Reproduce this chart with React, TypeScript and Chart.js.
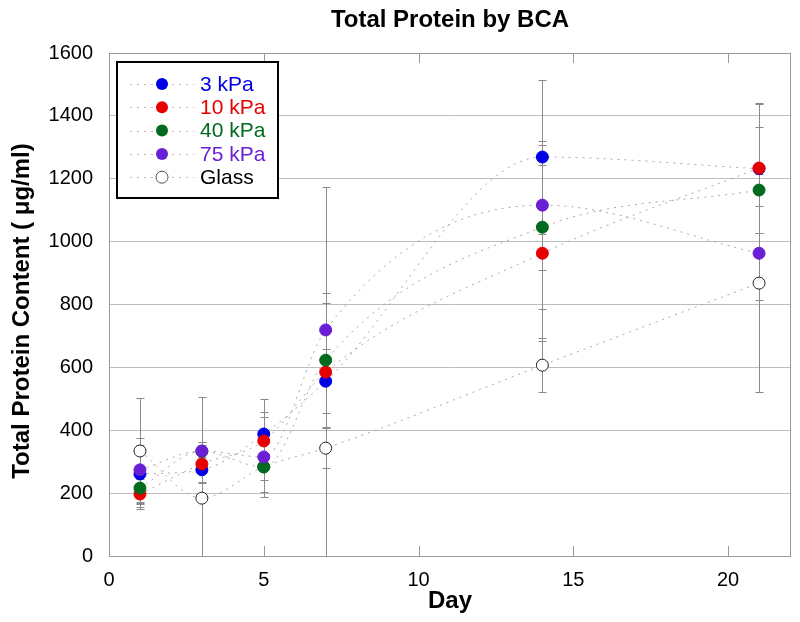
import React, { useEffect, useRef } from "react";
import { Chart, registerables } from "chart.js";

Chart.register(...registerables);

const days = [1, 3, 5, 7, 14, 21];
const kpa3 = [261, 274, 388, 556, 1269, 1232];
const kpa3Err = [92, 40, 111, 102, 245, 205];
const kpa10 = [197, 293, 366, 585, 963, 1234];
const kpa10Err = [47, 60, 92, 590, 280, 207];
const kpa40 = [216, 333, 283, 623, 1046, 1164];
const kpa40Err = [60, 30, 41, 214, 260, 201];
const kpa75 = [274, 334, 315, 719, 1116, 963];
const kpa75Err = [101, 30, 127, 85, 205, 150];
const glass = [334, 184, 284, 343, 607, 868];
const glassErr = [168, 321, 80, 63, 85, 346];

const seriesNames = ["3 kPa", "10 kPa", "40 kPa", "75 kPa", "Glass"];
const xTickValues = [0, 5, 10, 15, 20];

const FONT = "'Liberation Sans', Arial, sans-serif";

const colors = ["#0000e6", "#e60000", "#006b1e", "#6a1ed6", "#000000"];

export default function App() {
  const ref = useRef<HTMLCanvasElement>(null);

  useEffect(() => {
    if (!ref.current) return;
    const values = [kpa3, kpa10, kpa40, kpa75, glass];
    const errors = [kpa3Err, kpa10Err, kpa40Err, kpa75Err, glassErr];
    const orders = [5, 4, 3, 2, 6];

    const datasets = values.map((vals, i) => {
      const isGlass = i === 4;
      return {
        label: seriesNames[i],
        data: days.map((d, j) => ({ x: d, y: vals[j] })),
        errs: errors[i],
        borderColor: "rgba(160,160,160,0.9)",
        borderWidth: 1,
        borderDash: [2, 5],
        cubicInterpolationMode: "monotone",
        pointRadius: 6,
        pointHoverRadius: 6,
        pointBackgroundColor: isGlass ? "#ffffff" : colors[i],
        pointBorderColor: isGlass ? "#222222" : colors[i],
        pointBorderWidth: 1,
        showLine: true,
        fill: false,
        order: orders[i],
      } as any;
    });

    const errorBarPlugin = {
      id: "errorBars",
      beforeDatasetsDraw(chart: any) {
        const { ctx, chartArea, scales } = chart;
        const ys = scales.y;
        ctx.save();
        ctx.beginPath();
        ctx.rect(chartArea.left, chartArea.top, chartArea.right - chartArea.left, chartArea.bottom - chartArea.top);
        ctx.clip();
        ctx.strokeStyle = "#8a8a8a";
        ctx.lineWidth = 1;
        chart.data.datasets.forEach((ds: any, di: number) => {
          const meta = chart.getDatasetMeta(di);
          meta.data.forEach((pt: any, j: number) => {
            const v = ds.data[j].y;
            const e = ds.errs[j];
            const x = Math.round(pt.x) + 0.5;
            const yt = Math.round(ys.getPixelForValue(v + e)) + 0.5;
            const yb = Math.round(ys.getPixelForValue(v - e)) + 0.5;
            ctx.beginPath();
            ctx.moveTo(x, yt);
            ctx.lineTo(x, yb);
            ctx.moveTo(x - 4, yt);
            ctx.lineTo(x + 4, yt);
            ctx.moveTo(x - 4, yb);
            ctx.lineTo(x + 4, yb);
            ctx.stroke();
          });
        });
        ctx.restore();
      },
    };

    const decorPlugin = {
      id: "decor",
      afterDraw(chart: any) {
        const { ctx, chartArea, scales } = chart;
        const { left, right, top, bottom } = chartArea;
        ctx.save();
        // frame
        ctx.strokeStyle = "#999999";
        ctx.lineWidth = 1;
        ctx.strokeRect(Math.round(left) + 0.5, Math.round(top) + 0.5, Math.round(right - left), Math.round(bottom - top));
        // inward x ticks top and bottom
        ctx.beginPath();
        xTickValues.forEach((v) => {
          const x = Math.round(scales.x.getPixelForValue(v)) + 0.5;
          ctx.moveTo(x, bottom);
          ctx.lineTo(x, bottom - 10);
          ctx.moveTo(x, top);
          ctx.lineTo(x, top + 10);
        });
        ctx.stroke();

        // title
        ctx.fillStyle = "#000";
        ctx.font = `bold 24px ${FONT}`;
        ctx.textAlign = "center";
        ctx.textBaseline = "middle";
        ctx.fillText("Total Protein by BCA", 450, 20);
        // x title
        ctx.fillText("Day", 450, 601);
        // y title
        ctx.save();
        ctx.translate(22, 311);
        ctx.rotate(-Math.PI / 2);
        ctx.fillText("Total Protein Content ( \u03bcg/ml)", 0, 0);
        ctx.restore();

        // legend
        const bx = 117, by = 62, bw = 161, bh = 136;
        ctx.fillStyle = "#ffffff";
        ctx.fillRect(bx, by, bw, bh);
        ctx.strokeStyle = "#000";
        ctx.lineWidth = 2;
        ctx.strokeRect(bx, by, bw, bh);
        ctx.font = `21px ${FONT}`;
        ctx.textAlign = "left";
        seriesNames.forEach((name, i) => {
          const cy = 84 + i * 23.3;
          ctx.save();
          ctx.strokeStyle = "rgba(200,170,170,0.9)";
          ctx.lineWidth = 1;
          ctx.setLineDash([2, 5]);
          ctx.beginPath();
          ctx.moveTo(130, Math.round(cy) + 0.5);
          ctx.lineTo(194, Math.round(cy) + 0.5);
          ctx.stroke();
          ctx.restore();
          ctx.beginPath();
          ctx.arc(162, cy, 6, 0, Math.PI * 2);
          if (i === 4) {
            ctx.fillStyle = "#fff";
            ctx.fill();
            ctx.strokeStyle = "#555";
            ctx.lineWidth = 1;
            ctx.stroke();
          } else {
            ctx.fillStyle = colors[i];
            ctx.fill();
          }
          ctx.fillStyle = colors[i];
          ctx.fillText(name, 200, cy + 1);
        });
        ctx.restore();
      },
    };

    const chart = new Chart(ref.current, {
      type: "scatter",
      data: { datasets },
      options: {
        animation: false,
        responsive: false,
        devicePixelRatio: 1,
        layout: { padding: { left: 0, right: 10, top: 53, bottom: 0 } },
        plugins: {
          legend: { display: false },
          title: { display: false },
          tooltip: { enabled: false },
        },
        scales: {
          x: {
            type: "linear",
            min: 0,
            max: 22,
            afterBuildTicks: (s: any) => {
              s.ticks = xTickValues.map((v) => ({ value: v }));
            },
            afterFit: (s: any) => {
              s.height = 66;
            },
            grid: { display: false, drawTicks: false },
            border: { display: false },
            ticks: {
              color: "#000",
              font: { family: FONT, size: 20 },
              padding: 12,
              maxRotation: 0,
              callback: (v: any) => String(v),
            },
          },
          y: {
            type: "linear",
            min: 0,
            max: 1600,
            afterFit: (s: any) => {
              s.width = 109;
            },
            grid: { color: "#bdbdbd", lineWidth: 1, drawTicks: false },
            border: { display: false },
            ticks: {
              stepSize: 200,
              color: "#000",
              font: { family: FONT, size: 20 },
              padding: 16,
              callback: (v: any) => String(v),
            },
          },
        },
      },
      plugins: [errorBarPlugin, decorPlugin],
    });
    return () => chart.destroy();
  }, []);

  return (
    <div style={{ position: "absolute", left: 0, top: 0, width: 800, height: 622, background: "#fff" }}>
      <canvas ref={ref} width={800} height={622} />
    </div>
  );
}
